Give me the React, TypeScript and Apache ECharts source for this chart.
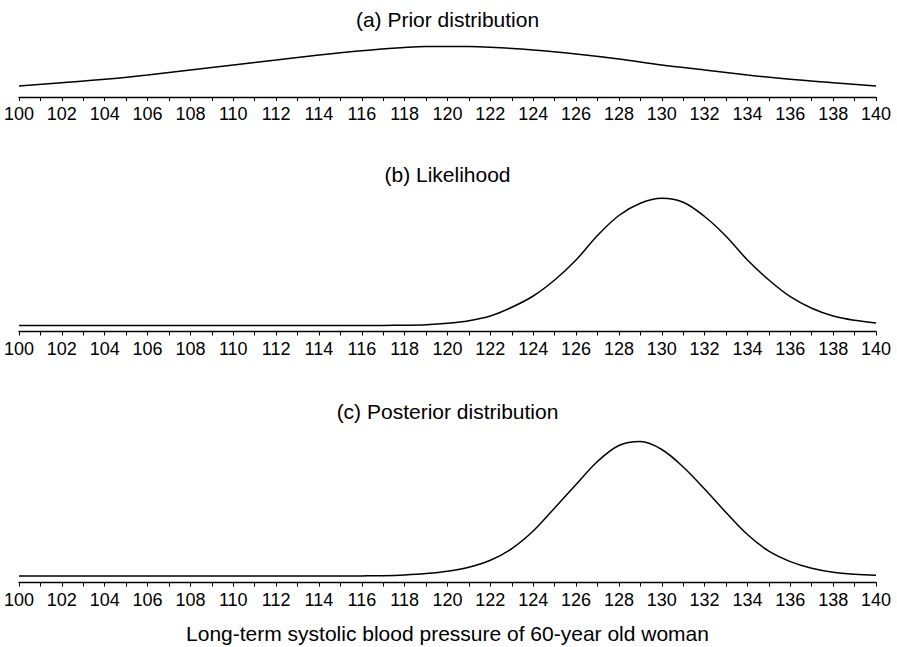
import React, { useEffect, useRef } from "react";
import * as echarts from "echarts";

// Systolic blood pressure values (mmHg) on the shared horizontal scale
const pressureRange = [100, 140];

// (a) prior density (relative height)
const priorPressure = [100, 102, 104, 106, 108, 110, 112, 114, 116, 118, 119, 120, 121, 122, 124, 126, 128, 130, 132, 134, 136, 138, 140];
const priorDensity = [4, 7.3, 10.7, 15, 20, 25, 30, 35, 39.3, 42.5, 43.5, 43.5, 43.5, 42.8, 40, 36, 31, 25, 20, 15, 10.7, 7.3, 4];

// (b) likelihood and (c) posterior, sampled at every integer pressure
const pressure = [
  100, 101, 102, 103, 104, 105, 106, 107, 108, 109, 110, 111, 112, 113, 114, 115, 116, 117, 118, 119, 120,
  121, 122, 123, 124, 125, 126, 127, 128, 129, 130, 131, 132, 133, 134, 135, 136, 137, 138, 139, 140,
];
const likelihood = [
  0, 0, 0, 0, 0, 0, 0, 0, 0, 0, 0, 0, 0, 0, 0, 0, 0.05, 0.1, 0.3, 0.8, 2.2,
  4.8, 9.5, 18.2, 29.5, 45.5, 65.5, 90, 110, 122.2, 127.2, 123.3, 109, 89.3, 65.5, 45.5, 28.8, 17.2, 9.5, 5.2, 2.6,
];
const posterior = [
  0, 0, 0, 0, 0, 0, 0, 0, 0, 0, 0, 0, 0, 0, 0, 0, 0.1, 0.3, 1, 2.4, 4.8,
  8.8, 15.7, 27.4, 45, 68, 91.5, 114.5, 130.5, 134.4, 126.5, 109, 87, 63.5, 41.5, 24.8, 14.4, 7.7, 3.7, 1.7, 0.7,
];

const panelTitles = ["(a) Prior distribution", "(b) Likelihood", "(c) Posterior distribution"];
const axisTitle = "Long-term systolic blood pressure of 60-year old woman";

const FONT = "'Liberation Sans', Arial, Helvetica, sans-serif";

const pairs = (xs: number[], ys: number[]) => xs.map((x, i) => [x, ys[i]]);

export default function App() {
  const ref = useRef<HTMLDivElement>(null);

  useEffect(() => {
    document.body.style.margin = "0";
    if (!ref.current) return;
    const chart = echarts.init(ref.current, null, { renderer: "svg" });

    // per panel: grid top, grid height, y min (baseline lift), y max
    const panels = [
      { top: 40, height: 57, yMin: -7, yMax: 50, data: pairs(priorPressure, priorDensity) },
      { top: 190, height: 141.5, yMin: -6, yMax: 135.5, data: pairs(pressure, likelihood) },
      { top: 430, height: 152.5, yMin: -6.5, yMax: 146, data: pairs(pressure, posterior) },
    ];

    const titleY = [19, 174.5, 411];

    chart.setOption({
      animation: false,
      grid: panels.map((p) => ({ left: 19, right: 21, top: p.top, height: p.height })),
      xAxis: panels.map((_, i) => ({
        type: "value",
        gridIndex: i,
        min: pressureRange[0],
        max: pressureRange[1],
        interval: 2,
        axisLine: { show: true, onZero: false, lineStyle: { color: "#000", width: 1.3 } },
        axisTick: { show: true, length: 4, lineStyle: { color: "#000", width: 1 } },
        minorTick: { show: true, splitNumber: 2, length: 4, lineStyle: { color: "#000", width: 1 } },
        splitLine: { show: false },
        minorSplitLine: { show: false },
        axisLabel: { color: "#000", fontSize: 18, fontFamily: FONT, margin: 8 },
      })),
      yAxis: panels.map((p, i) => ({
        type: "value",
        gridIndex: i,
        min: p.yMin,
        max: p.yMax,
        show: false,
        splitLine: { show: false },
      })),
      series: panels.map((p, i) => ({
        type: "line",
        xAxisIndex: i,
        yAxisIndex: i,
        data: p.data,
        symbol: "none",
        smooth: 0.35,
        lineStyle: { color: "#000", width: 1.5 },
      })),
      graphic: [
        ...panelTitles.map((t, i) => ({
          type: "text",
          x: 447.5,
          y: titleY[i],
          style: {
            text: t,
            fill: "#000",
            fontSize: 21,
            fontFamily: FONT,
            align: "center",
            verticalAlign: "middle",
          },
        })),
        {
          type: "text",
          x: 447.5,
          y: 633,
          style: {
            text: axisTitle,
            fill: "#000",
            fontSize: 21,
            fontFamily: FONT,
            align: "center",
            verticalAlign: "middle",
          },
        },
      ],
    });

    return () => chart.dispose();
  }, []);

  return <div ref={ref} style={{ width: 897, height: 647, background: "#fff" }} />;
}
